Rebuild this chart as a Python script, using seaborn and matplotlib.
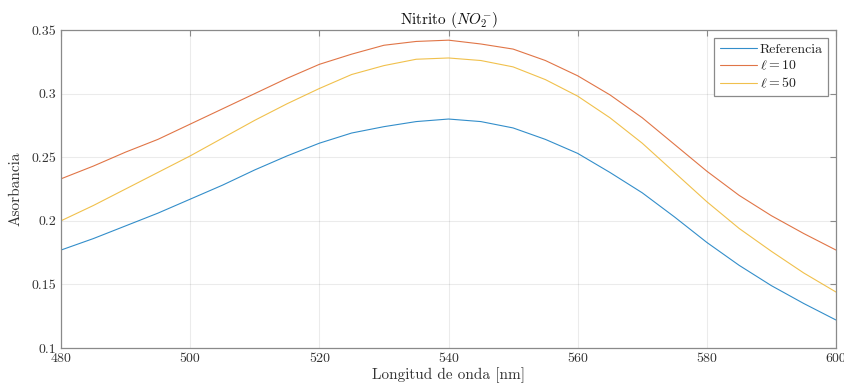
import matplotlib
matplotlib.use("Agg")
import matplotlib.pyplot as plt
import seaborn as sns
import pandas as pd

wavelength = [480, 485, 490, 495, 500, 505, 510, 515, 520, 525, 530, 535, 540,
              545, 550, 555, 560, 565, 570, 575, 580, 585, 590, 595, 600]
referencia = [0.177, 0.186, 0.196, 0.206, 0.217, 0.228, 0.240, 0.251, 0.261, 0.269,
              0.274, 0.278, 0.280, 0.278, 0.273, 0.264, 0.253, 0.238, 0.222, 0.203,
              0.183, 0.165, 0.149, 0.135, 0.122]
ell10 = [0.233, 0.243, 0.254, 0.264, 0.276, 0.288, 0.300, 0.312, 0.323, 0.331,
         0.338, 0.341, 0.342, 0.339, 0.335, 0.326, 0.314, 0.299, 0.281, 0.260,
         0.239, 0.220, 0.204, 0.190, 0.177]
ell50 = [0.200, 0.212, 0.225, 0.238, 0.251, 0.265, 0.279, 0.292, 0.304, 0.315,
         0.322, 0.327, 0.328, 0.326, 0.321, 0.311, 0.298, 0.281, 0.261, 0.238,
         0.215, 0.194, 0.176, 0.159, 0.144]
series_names = ["Referencia", r"$\ell = 10$", r"$\ell = 50$"]
colors = ["#0072BD", "#D95319", "#EDB120"]
xticks = [480, 500, 520, 540, 560, 580, 600]
yticks = [0.1, 0.15, 0.2, 0.25, 0.3, 0.35]

sns.set_style("white")
plt.rcParams["font.family"] = ["cmr10", "DejaVu Serif"]
plt.rcParams["mathtext.fontset"] = "cm"
plt.rcParams["axes.unicode_minus"] = False
plt.rcParams["axes.formatter.use_mathtext"] = True

frames = []
for name, vals in zip(series_names, [referencia, ell10, ell50]):
    frames.append(pd.DataFrame({"x": wavelength, "y": vals, "serie": name}))
df = pd.concat(frames, ignore_index=True)

fig = plt.figure(figsize=(8.44, 3.87), dpi=100)
ax = fig.add_axes([0.0723, 0.1008, 0.9182, 0.8217])
sns.lineplot(data=df, x="x", y="y", hue="serie", palette=colors, ax=ax,
             linewidth=0.8, alpha=0.8, legend=True)

ax.set_xlim(480, 600)
ax.set_ylim(0.1, 0.35)
ax.set_xticks(xticks)
ax.set_yticks(yticks)
ax.set_xticklabels([str(t) for t in xticks])
ax.set_yticklabels(["0.1", "0.15", "0.2", "0.25", "0.3", "0.35"])
ax.grid(True, color="#000000", alpha=0.08, linewidth=0.8)
ax.tick_params(direction="in", length=4, color="#8a8a8a", labelcolor="#333333",
               labelsize=10, top=True, right=True, width=0.8)
for s in ax.spines.values():
    s.set_color("#8a8a8a")
    s.set_linewidth(0.9)
    s.set_visible(True)

ax.set_xlabel("Longitud de onda [nm]", fontsize=11, color="#333333", labelpad=2)
ax.set_ylabel("Asorbancia", fontsize=11, color="#333333", labelpad=6)
ax.set_title(r"Nitrito $(NO_2^{-})$", fontsize=11, color="#111111", pad=4)

leg = ax.legend(loc="upper right", fontsize=10, frameon=True, fancybox=False,
                edgecolor="#8a8a8a", framealpha=1, borderaxespad=0.55,
                handlelength=2.7, handletextpad=0.2, labelspacing=0.25,
                borderpad=0.4)
leg.get_frame().set_linewidth(0.9)
for t in leg.get_texts():
    t.set_color("#222222")

fig.savefig("out.png", dpi=100)
